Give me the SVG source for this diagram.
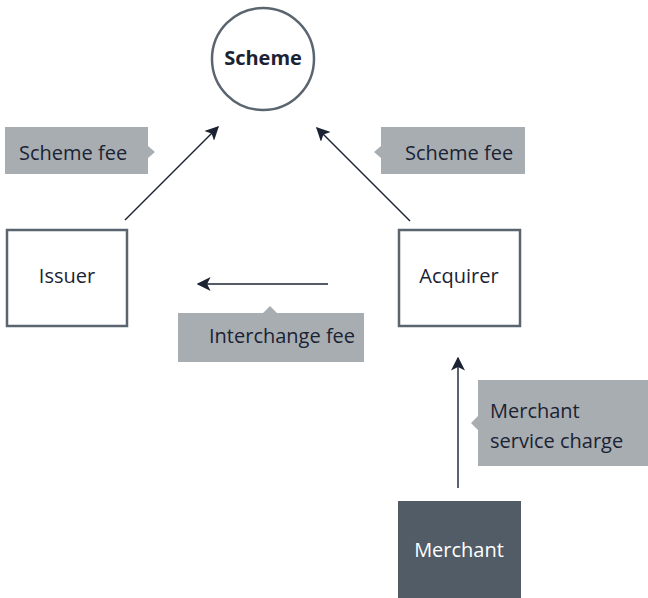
<svg xmlns="http://www.w3.org/2000/svg" width="648" height="598" viewBox="0 0 648 598">
<style>
.t{font-family:"Open Sans","Liberation Sans",sans-serif;font-size:20px;fill:#1b2333}
.box{fill:#fff;stroke:#5a6570;stroke-width:2.5}
.lab{fill:#a8adb2}
.c{stroke:#1b2333;stroke-width:1.5;fill:none}
</style>
<defs>
<marker id="ah" viewBox="0 0 10 10" refX="9" refY="5" markerWidth="14" markerHeight="14" markerUnits="userSpaceOnUse" orient="auto">
<path d="M0,0 L10,5 L0,10 L2.5,5 z" fill="#1b2333"/>
</marker>
</defs>
<rect width="648" height="598" fill="#fff"/>
<g id="connectors">
<line class="c" x1="125" y1="220" x2="218" y2="127" marker-end="url(#ah)"/>
<line class="c" x1="410" y1="221" x2="317" y2="128" marker-end="url(#ah)"/>
<line class="c" x1="328" y1="284" x2="198" y2="284" marker-end="url(#ah)"/>
<line class="c" x1="458" y1="488" x2="458" y2="358" marker-end="url(#ah)" style="stroke:#5a6570;stroke-width:2"/>
</g>
<g id="scheme">
<circle cx="263" cy="59" r="51" fill="#fff" stroke="#5a6570" stroke-width="2.5"/>
<text class="t" x="263" y="65" text-anchor="middle" font-weight="bold" font-size="17.5">Scheme</text>
</g>
<g id="issuer">
<rect class="box" x="7" y="230" width="120" height="96"/>
<text class="t" x="67" y="283" text-anchor="middle">Issuer</text>
</g>
<g id="acquirer">
<rect class="box" x="399" y="230" width="121" height="96"/>
<text class="t" x="459" y="283" text-anchor="middle">Acquirer</text>
</g>
<g id="merchant">
<rect x="398" y="501" width="123" height="97" fill="#515c67"/>
<text class="t" x="459" y="557" text-anchor="middle" style="fill:#fff">Merchant</text>
</g>
<g id="label-scheme-fee-left">
<path class="lab" d="M5,127 H148 V146 L155,152 L148,158 V174 H5 z"/>
<text class="t" x="19" y="160">Scheme fee</text>
</g>
<g id="label-scheme-fee-right">
<path class="lab" d="M381,127 H525 V174 H381 V158 L374,152 L381,146 z"/>
<text class="t" x="405" y="160">Scheme fee</text>
</g>
<g id="label-interchange">
<path class="lab" d="M178,313 H263 L270,306 L277,313 H364 V362 H178 z"/>
<text class="t" x="209" y="343">Interchange fee</text>
</g>
<g id="label-msc">
<path class="lab" d="M478,380 H648 V466 H478 V430 L471,423 L478,416 z"/>
<text class="t" x="490" y="418">Merchant</text>
<text class="t" x="490" y="448">service charge</text>
</g>
</svg>
